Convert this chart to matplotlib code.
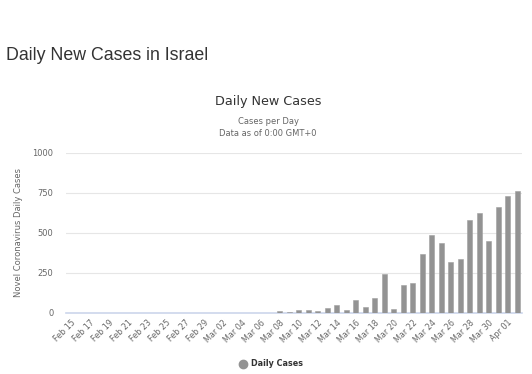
import matplotlib
matplotlib.use("Agg")
import matplotlib.pyplot as plt
from matplotlib.lines import Line2D
import numpy as np

# categories: Feb 15 .. Apr 02
feb_days = [f"Feb {d:02d}" for d in range(15, 30)]
mar_days = [f"Mar {d:02d}" for d in range(1, 32)]
apr_days = ["Apr 01", "Apr 02"]
dates = feb_days + mar_days + apr_days

# daily new cases
cases_feb = [0, 0, 0, 0, 0, 0, 1, 0, 0, 0, 0, 1, 0, 0, 0]
cases_mar_early = [0, 1, 0, 0, 1, 0, 1]  # Mar 01 - Mar 07
cases_mar_late = [10, 4, 18, 20, 12, 28, 47, 17, 78, 33, 94, 240, 23, 173,
                  183, 367, 484, 435, 319, 338, 579, 621, 446, 659]  # Mar 08 - Mar 31
cases_apr = [729, 763]
daily_cases = cases_feb + cases_mar_early + cases_mar_late + cases_apr

y_ticks = [0, 250, 500, 750, 1000]

fig = plt.figure(figsize=(5.32, 3.74), dpi=100)
fig.text(6 / 532, 1 - 55 / 374, "Daily New Cases in Israel", fontsize=12.8,
         color="#333333", family="Liberation Sans", va="center", ha="left")

ax = fig.add_axes([66 / 532, 1 - 312.7 / 374, 456 / 532, 160 / 374])
x = np.arange(len(dates))
ax.bar(x, daily_cases, width=0.5, color="#939393", edgecolor="#a0a0a0",
       linewidth=0.4, zorder=3)

ax.set_xlim(-0.5, len(dates) - 0.5)
ax.set_ylim(0, 1000)
ax.set_yticks(y_ticks)
ax.set_yticklabels([str(v) for v in y_ticks], fontsize=6, color="#666666")
ax.grid(axis="y", color="#e6e6e6", linewidth=0.8, zorder=0)
for s in ["top", "right", "left"]:
    ax.spines[s].set_visible(False)
ax.spines["bottom"].set_color("#ccd6eb")
ax.spines["bottom"].set_linewidth(1.2)
ax.tick_params(axis="y", length=0, pad=9)
ax.tick_params(axis="x", length=0, pad=4)

ax.set_xticks(x[::2])
ax.set_xticklabels(dates[::2], rotation=45, ha="right", rotation_mode="anchor",
                   fontsize=5.8, color="#666666")
ax.set_ylabel("Novel Coronavirus Daily Cases", fontsize=6, color="#666666",
              labelpad=7)

fig.text(268 / 532, 1 - 102 / 374, "Daily New Cases", fontsize=9.2,
         color="#333333", ha="center", va="center")
fig.text(268 / 532, 1 - 122 / 374, "Cases per Day", fontsize=6,
         color="#666666", ha="center", va="center")
fig.text(268 / 532, 1 - 134 / 374, "Data as of 0:00 GMT+0", fontsize=6,
         color="#666666", ha="center", va="center")

handle = Line2D([], [], marker="o", linestyle="none", markersize=6,
                markerfacecolor="#939393", markeredgecolor="#939393")
fig.legend([handle], ["Daily Cases"], loc="center", bbox_to_anchor=(269 / 532, 10 / 374),
           frameon=False, handletextpad=0.1, prop={"size": 5.8, "weight": "bold"},
           labelcolor="#333333")

fig.savefig("out.png", dpi=100)
